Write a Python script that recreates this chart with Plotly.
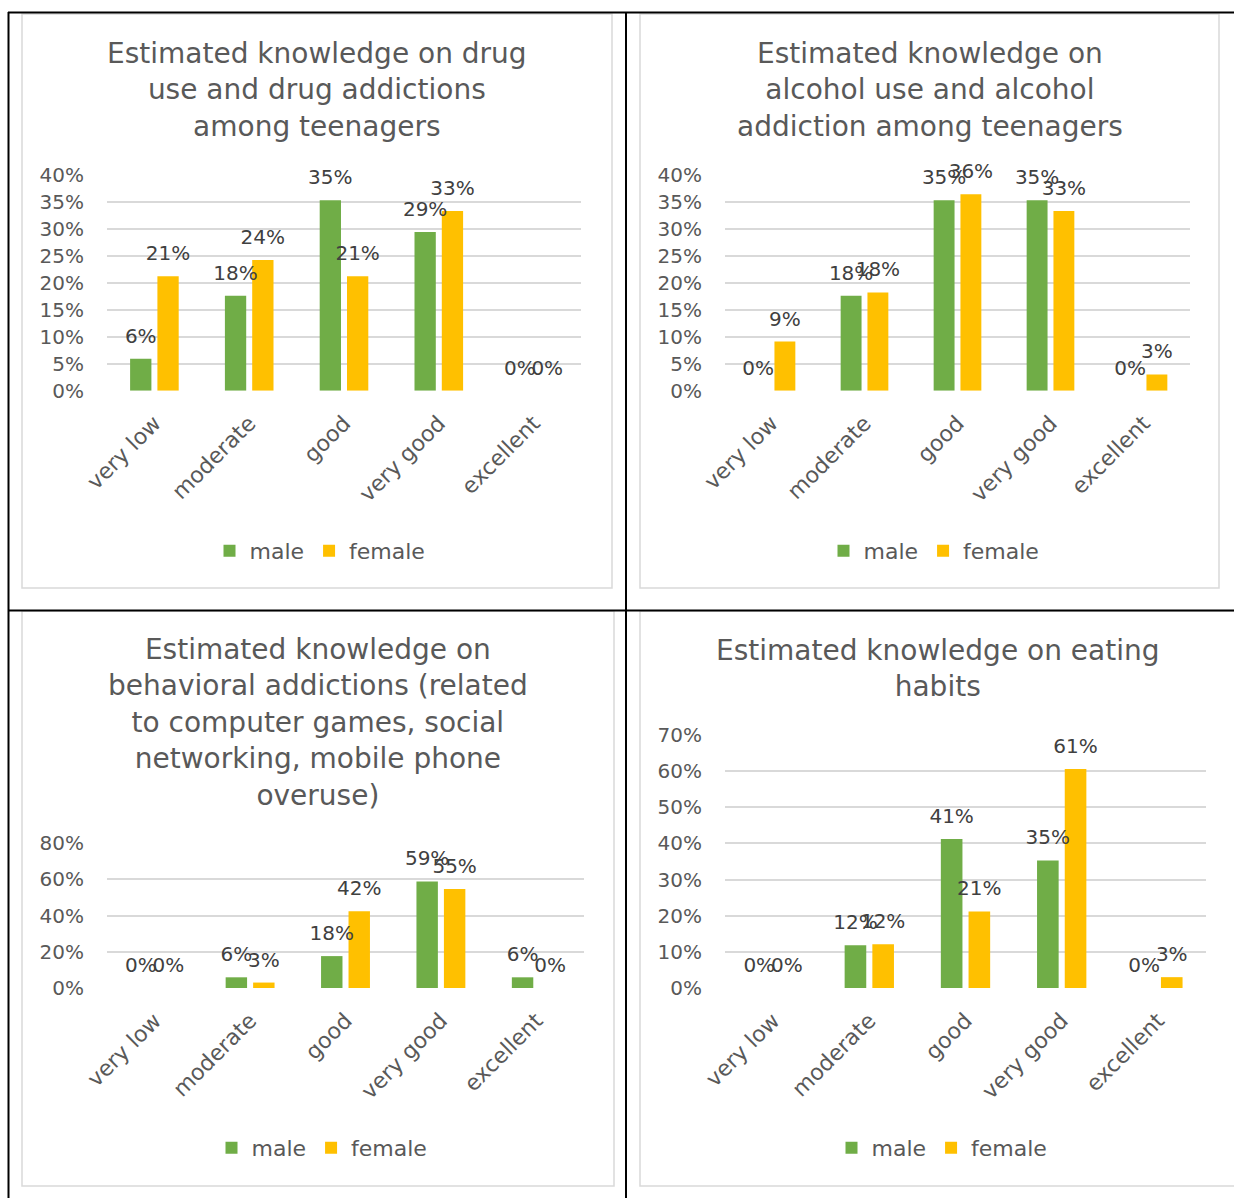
import plotly.graph_objects as go

# ---------------- data ----------------
categories = ["very low", "moderate", "good", "very good", "excellent"]

drug_male = [0.059, 0.176, 0.353, 0.294, 0.0]
drug_female = [0.212, 0.242, 0.212, 0.333, 0.0]

alcohol_male = [0.0, 0.176, 0.353, 0.353, 0.0]
alcohol_female = [0.091, 0.182, 0.364, 0.333, 0.030]

behav_male = [0.0, 0.059, 0.176, 0.588, 0.059]
behav_female = [0.0, 0.030, 0.424, 0.546, 0.0]

eating_male = [0.0, 0.118, 0.412, 0.353, 0.0]
eating_female = [0.0, 0.121, 0.212, 0.606, 0.030]

series_names = ["male", "female"]

titles = [
    "Estimated knowledge on drug<br>use and drug addictions<br>among teenagers",
    "Estimated knowledge on<br>alcohol use and alcohol<br>addiction among teenagers",
    "Estimated knowledge on<br>behavioral addictions (related<br>to computer games, social<br>networking, mobile phone<br>overuse)",
    "Estimated knowledge on eating<br>habits",
]

# ---------------- style / layout ----------------
W, H = 1234, 1198
GREEN = "#70AD47"
YELLOW = "#FFC000"
GRID = "#D9D9D9"
TXT = "#595959"
LBL = "#404040"
FONT = "DejaVu Sans"


def px_x(x):
    return x / W


def px_y(y):
    return 1 - y / H


panels = [
    dict(male=drug_male, female=drug_female, plot=(107, 581, 174.7, 390.7),
         yr=(0, 0.4001), dtick=0.05, tx=317, ty=89.5, lx=320, ly=551),
    dict(male=alcohol_male, female=alcohol_female, plot=(725, 1190, 174.7, 390.7),
         yr=(0, 0.4001), dtick=0.05, tx=930, ty=89.5, lx=934, ly=551),
    dict(male=behav_male, female=behav_female, plot=(107, 584, 843, 988),
         yr=(0, 0.8001), dtick=0.2, tx=318, ty=722, lx=322, ly=1148),
    dict(male=eating_male, female=eating_female, plot=(725, 1206, 735, 988),
         yr=(0, 0.7001), dtick=0.1, tx=938, ty=668, lx=942, ly=1148),
]

fig = go.Figure()
layout_extra = {}
annotations = []

for i, p in enumerate(panels):
    n = "" if i == 0 else str(i + 1)
    xa, ya, lg = "x" + n, "y" + n, "legend" + n
    for name, vals, col in ((series_names[0], p["male"], GREEN),
                            (series_names[1], p["female"], YELLOW)):
        fig.add_trace(go.Bar(
            x=categories, y=vals, name=name, marker=dict(color=col, line=dict(width=0)),
            xaxis=xa, yaxis=ya, legend=lg, offsetgroup=name,
            hoverinfo="skip",
        ))
    for name, vals in ((series_names[0], p["male"]), (series_names[1], p["female"])):
        fig.add_trace(go.Scatter(
            x=categories, y=vals, mode="markers+text",
            marker=dict(size=16, color="rgba(0,0,0,0)"),
            texttemplate="%{y:.0%}", textposition="top center",
            textfont=dict(family=FONT, size=20, color=LBL),
            cliponaxis=False, showlegend=False, hoverinfo="skip",
            xaxis=xa, yaxis=ya, offsetgroup="t" + name, alignmentgroup="ta" + n,
        ))

    x0, x1, y0, y1 = p["plot"]
    layout_extra["xaxis" + n] = dict(
        domain=[px_x(x0), px_x(x1)], anchor=ya, tickangle=-45,
        ticks="outside", ticklen=10, tickcolor="rgba(0,0,0,0)",
        tickfont=dict(family=FONT, size=22, color=TXT),
        showgrid=False, showline=False, zeroline=False, automargin=False,
    )
    layout_extra["yaxis" + n] = dict(
        domain=[px_y(y1), px_y(y0)], anchor=xa, range=list(p["yr"]),
        tick0=0, dtick=p["dtick"], tickformat=".0%",
        ticks="outside", ticklen=18, tickcolor="rgba(0,0,0,0)",
        tickfont=dict(family=FONT, size=20, color=TXT),
        showgrid=True, gridcolor=GRID, gridwidth=1.5,
        showline=False, zeroline=False, automargin=False,
    )
    layout_extra[lg] = dict(
        orientation="h", x=px_x(p["lx"]), y=px_y(p["ly"]),
        xanchor="center", yanchor="middle",
        font=dict(family=FONT, size=22, color=TXT),
        bgcolor="rgba(0,0,0,0)", itemclick=False, itemdoubleclick=False,
    )
    annotations.append(dict(
        text=titles[i], xref="paper", yref="paper",
        x=px_x(p["tx"]), y=px_y(p["ty"]), xanchor="center", yanchor="middle",
        showarrow=False, align="center",
        font=dict(family=FONT, size=28, color=TXT),
    ))

# chart frames (light gray) and table lines (black)
boxes = [(22, 14, 612, 588), (640, 14, 1219, 588), (22, 611, 614, 1186), (640, 611, 1245, 1186)]
shapes = []
for bx0, by0, bx1, by1 in boxes:
    shapes.append(dict(type="rect", xref="paper", yref="paper",
                       x0=px_x(bx0), x1=px_x(bx1), y0=px_y(by1), y1=px_y(by0),
                       line=dict(color=GRID, width=1.5), fillcolor="rgba(0,0,0,0)", layer="below"))
black_lines = [(8, 12.5, 1240, 12.5), (8.5, 12, 8.5, 1200), (626, 12, 626, 1200), (8, 610.5, 1240, 610.5)]
for lx0, ly0, lx1, ly1 in black_lines:
    shapes.append(dict(type="line", xref="paper", yref="paper",
                       x0=px_x(lx0), x1=px_x(lx1), y0=px_y(ly0), y1=px_y(ly1),
                       line=dict(color="black", width=2)))

fig.update_layout(
    template="none",
    width=W, height=H,
    margin=dict(l=0, r=0, t=0, b=0, pad=0, autoexpand=False),
    paper_bgcolor="white", plot_bgcolor="rgba(0,0,0,0)",
    font=dict(family=FONT, color=TXT),
    barmode="group", bargap=0.424, bargroupgap=0.22,
    scattermode="group", scattergap=0.424,
    annotations=annotations, shapes=shapes,
    **layout_extra,
)

fig.write_html(
    "out.html",
    config={"displayModeBar": False, "staticPlot": False},
    post_script="document.body.style.margin='0';document.body.style.overflow='hidden';",
)
